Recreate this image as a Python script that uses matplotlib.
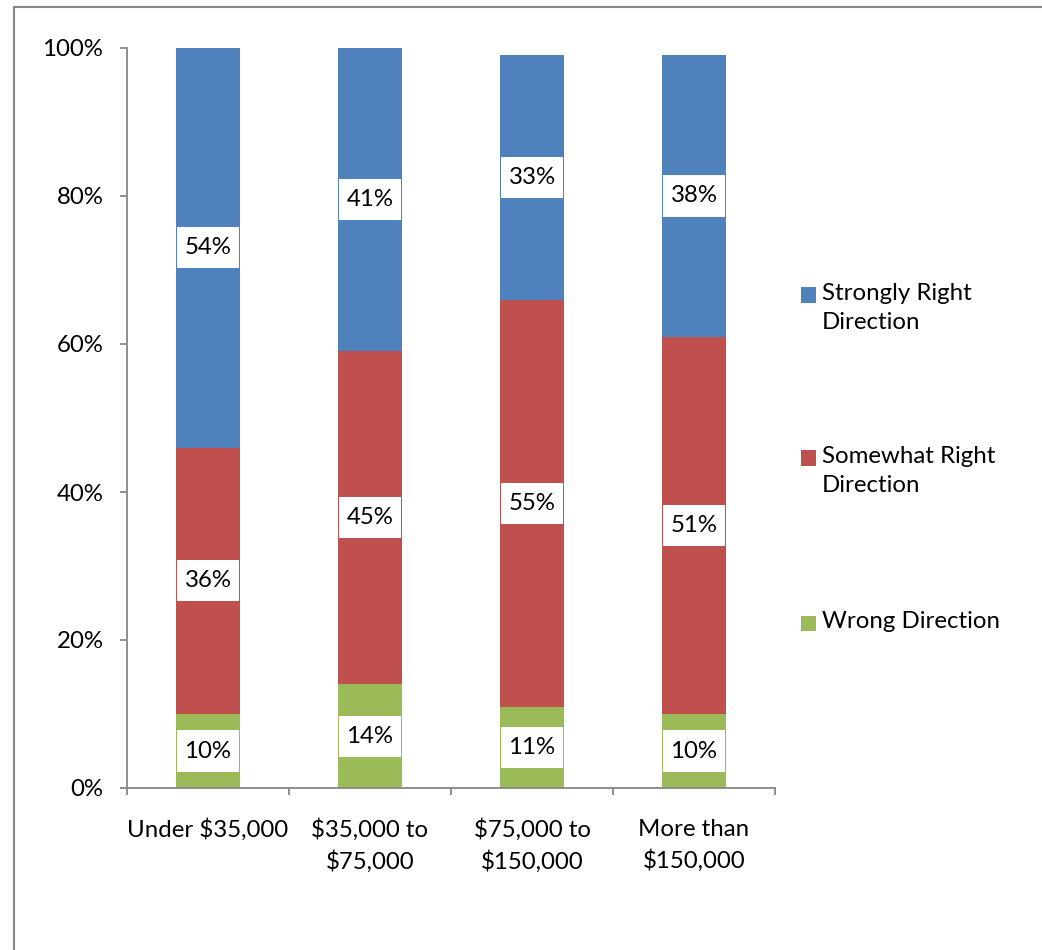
import matplotlib.pyplot as plt
from matplotlib.patches import Rectangle
from matplotlib.path import Path
import numpy as np

plt.rcParams['font.family'] = ['Lato', 'DejaVu Sans']

# data
groups = ['Under $35,000', '$35,000 to\n$75,000', '$75,000 to\n$150,000', 'More than\n$150,000']
series = ['Wrong Direction', 'Somewhat Right Direction', 'Strongly Right Direction']
wrong = [10, 14, 11, 10]
somewhat = [36, 45, 55, 51]
strongly = [54, 41, 33, 38]
colors = ['#9BBB59', '#C0504D', '#4F81BD']
legend_labels = ['Strongly Right\nDirection', 'Somewhat Right\nDirection', 'Wrong Direction']

fs = 17.3
W, H = 1042, 950


# label box with separate horizontal / vertical padding (Excel style data labels)
def label_box(x0, y0, width, height, mutation_size):
    px = 0.30 * mutation_size
    py = 0.42 * mutation_size
    x0, y0 = x0 - px, y0 - py
    x1, y1 = x0 + width + 2 * px, y0 + height + 2 * py
    return Path([(x0, y0), (x1, y0), (x1, y1), (x0, y1), (x0, y0)], closed=True)


fig = plt.figure(figsize=(W / 100, H / 100), dpi=100)
ax = fig.add_axes([127 / W, 1 - 788 / H, (775 - 127) / W, (788 - 48) / H])

x = np.arange(len(groups))
bottom = np.zeros(len(groups))
for vals, col in zip([wrong, somewhat, strongly], colors):
    vals = np.array(vals, dtype=float)
    ax.bar(x, vals, width=0.4, bottom=bottom, color=col, edgecolor='none')
    for xi, b, v in zip(x, bottom, vals):
        ax.text(xi, b + v / 2, '{}%'.format(int(v)), ha='center', va='center',
                fontsize=fs, color='black',
                bbox=dict(boxstyle=label_box, facecolor='white', edgecolor='none'))
    bottom += vals

ax.set_xlim(-0.5, 3.5)
ax.set_ylim(0, 100)
ax.set_yticks(range(0, 101, 20))
ax.set_yticklabels(['{}%'.format(v) for v in range(0, 101, 20)], fontsize=fs)
ax.set_xticks(x)
ax.set_xticklabels(groups, fontsize=fs, linespacing=1.5)
ax.set_xticks(np.arange(-0.5, 4, 1), minor=True)
ax.tick_params(axis='x', which='major', length=0, pad=22)
ax.tick_params(axis='x', which='minor', length=5, width=1.3, color='#868686', direction='out')
ax.tick_params(axis='y', length=5, width=1.3, color='#868686', direction='out', pad=12)
for s in ['top', 'right']:
    ax.spines[s].set_visible(False)
for s in ['left', 'bottom']:
    ax.spines[s].set_color('#868686')
    ax.spines[s].set_linewidth(1.3)

# legend drawn by hand (square aligned with the first line)
leg_y = [295, 458, 623]
for lab, col, yy in zip(legend_labels, colors[::-1], leg_y):
    fig.patches.append(Rectangle((801 / W, 1 - (yy + 7.5) / H), 15 / W, 15 / H,
                                 transform=fig.transFigure, facecolor=col, edgecolor='none'))
    fig.text(822 / W, 1 - (yy - 12) / H, lab, fontsize=fs, va='top', ha='left', linespacing=1.45)

# outer chart frame (right and bottom edges fall outside the image)
fig.patches.append(Rectangle((14 / W, -0.1), 1.2, 1.1 - 7 / H, transform=fig.transFigure,
                             facecolor='none', edgecolor='#868686', linewidth=1.5))

fig.savefig('out.png', dpi=100)
